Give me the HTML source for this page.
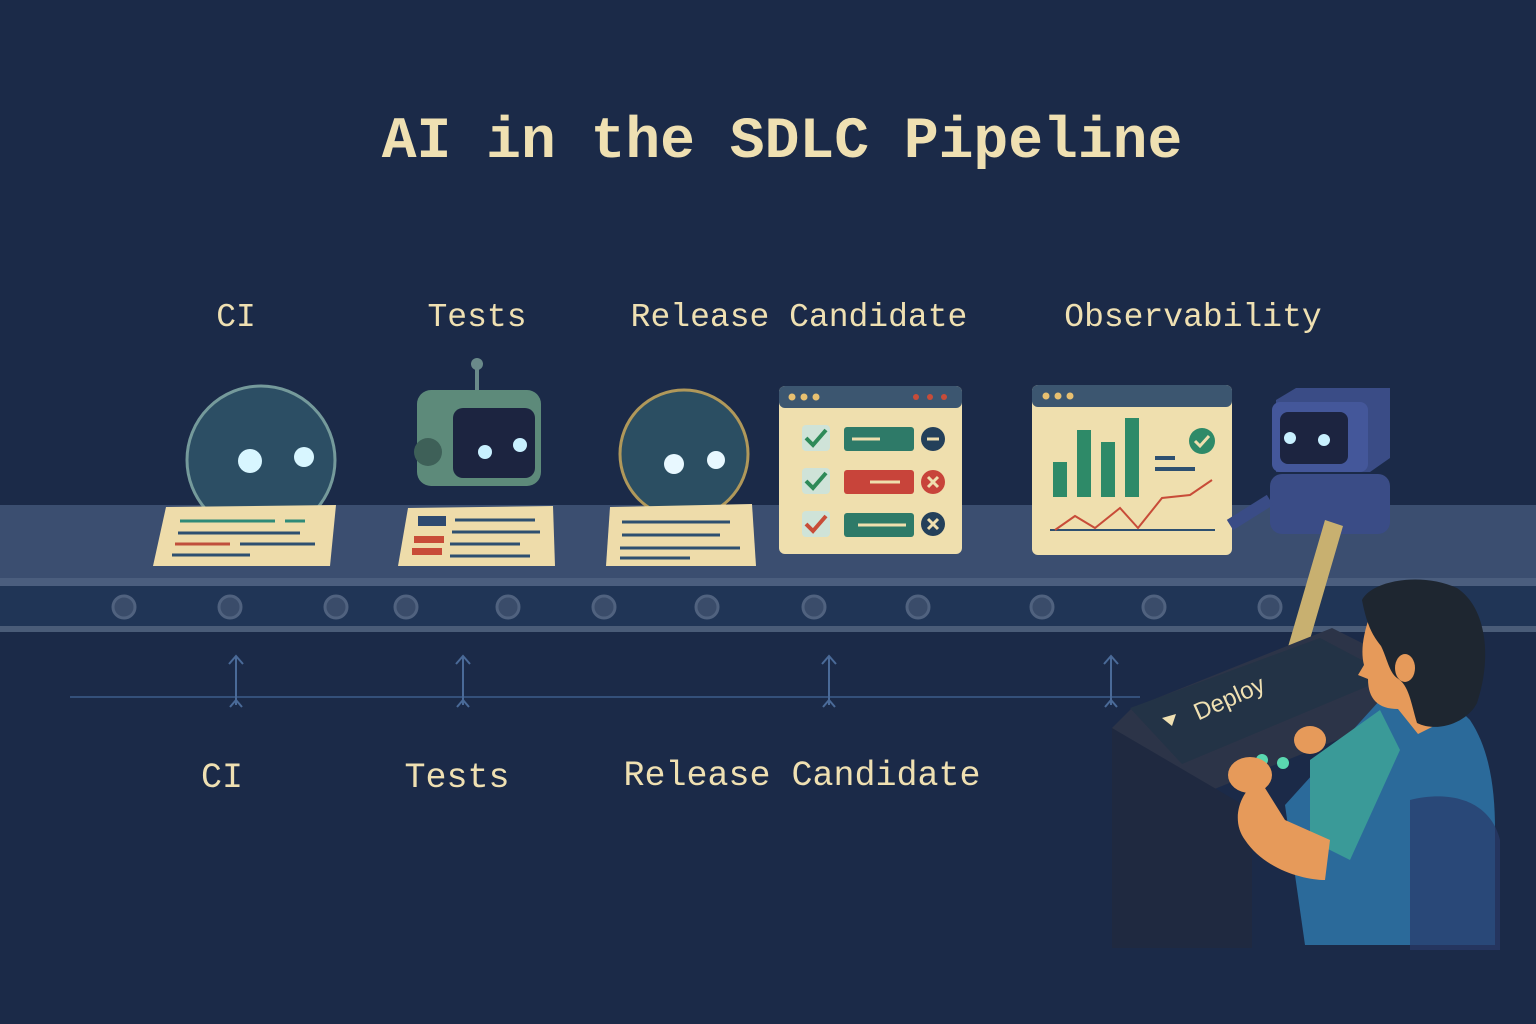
<!DOCTYPE html>
<html><head><meta charset="utf-8"><style>
html,body{margin:0;padding:0;background:#1b2a48;}
svg{display:block}
text{font-family:"Liberation Mono","DejaVu Sans Mono",monospace;fill:#efe0b2}
</style></head><body>
<svg width="1536" height="1024" viewBox="0 0 1536 1024" xmlns="http://www.w3.org/2000/svg">
<rect width="1536" height="1024" fill="#1b2a48"/>
<text x="782" y="157" font-size="58" font-weight="bold" text-anchor="middle">AI in the SDLC Pipeline</text>
<g font-size="33" text-anchor="middle">
<text x="236" y="326">CI</text>
<text x="477" y="326">Tests</text>
<text x="799" y="326">Release Candidate</text>
<text x="1193" y="326">Observability</text>
</g>
<g font-size="35" text-anchor="middle">
<text x="222" y="787">CI</text>
<text x="457" y="787">Tests</text>
<text x="802" y="785">Release Candidate</text>
</g>
<!-- conveyor -->
<rect x="0" y="505" width="1536" height="80" fill="#3b4e70"/>
<rect x="0" y="578" width="1536" height="8" fill="#4b5e7e"/>
<rect x="0" y="586" width="1536" height="42" fill="#203556"/>
<rect x="0" y="626" width="1536" height="6" fill="#4a5c78"/>
<g fill="#3a4c6a" stroke="#50627f" stroke-width="3">
<circle cx="124" cy="607" r="11"/><circle cx="230" cy="607" r="11"/><circle cx="336" cy="607" r="11"/><circle cx="406" cy="607" r="11"/><circle cx="508" cy="607" r="11"/><circle cx="604" cy="607" r="11"/><circle cx="707" cy="607" r="11"/><circle cx="814" cy="607" r="11"/><circle cx="918" cy="607" r="11"/><circle cx="1042" cy="607" r="11"/><circle cx="1154" cy="607" r="11"/><circle cx="1270" cy="607" r="11"/>
</g>
<!-- arrows -->
<line x1="70" y1="697" x2="1140" y2="697" stroke="#34507a" stroke-width="2"/>
<g stroke="#4a6a98" stroke-width="2" fill="none">
<path d="M236 705V656M229 664L236 656L243 664M230 707L236 700L242 707"/>
<path d="M463 705V656M456 664L463 656L470 664M457 707L463 700L469 707"/>
<path d="M829 705V656M822 664L829 656L836 664M823 707L829 700L835 707"/>
<path d="M1111 705V656M1104 664L1111 656L1118 664M1105 707L1111 700L1117 707"/>
</g>
<!-- CI orb -->
<circle cx="261" cy="460" r="74" fill="#2d5066" stroke="#7aa0a0" stroke-width="3" opacity="0.95"/>
<circle cx="250" cy="461" r="12" fill="#d8f6ff"/><circle cx="304" cy="457" r="10" fill="#d8f6ff"/>
<path d="M166 507L336 505L330 566L153 566Z" fill="#eedcaa"/>
<g stroke-width="3"><line x1="180" y1="521" x2="275" y2="521" stroke="#2e8a78"/><line x1="285" y1="521" x2="305" y2="521" stroke="#2e8a78"/>
<line x1="178" y1="533" x2="300" y2="533" stroke="#2e5070"/><line x1="175" y1="544" x2="230" y2="544" stroke="#c0503c"/><line x1="240" y1="544" x2="315" y2="544" stroke="#2e5070"/><line x1="172" y1="555" x2="250" y2="555" stroke="#2e5070"/></g>
<!-- Tests robot -->
<line x1="477" y1="365" x2="477" y2="393" stroke="#6a8a8a" stroke-width="4"/><circle cx="477" cy="364" r="6" fill="#6a8a8a"/>
<rect x="417" y="390" width="124" height="96" rx="14" fill="#5d8a7a"/>
<circle cx="428" cy="452" r="14" fill="#3e6058"/>
<rect x="453" y="408" width="82" height="70" rx="10" fill="#1c2440"/>
<circle cx="485" cy="452" r="7" fill="#c8f0ff"/><circle cx="520" cy="445" r="7" fill="#c8f0ff"/>
<path d="M408 508L553 506L555 566L398 566Z" fill="#eedcaa"/>
<rect x="418" y="516" width="28" height="10" fill="#2e4a70"/><rect x="414" y="536" width="30" height="7" fill="#c84c38"/><rect x="412" y="548" width="30" height="7" fill="#c84c38"/>
<g stroke="#2e5070" stroke-width="3"><line x1="455" y1="520" x2="535" y2="520"/><line x1="452" y1="532" x2="540" y2="532"/><line x1="450" y1="544" x2="520" y2="544"/><line x1="450" y1="556" x2="530" y2="556"/></g>
<!-- RC orb -->
<circle cx="684" cy="454" r="64" fill="#2b4e62" stroke="#b0985a" stroke-width="3"/>
<circle cx="674" cy="464" r="10" fill="#e8f8ff"/><circle cx="716" cy="460" r="9" fill="#e8f8ff"/>
<path d="M610 507L752 504L756 566L606 566Z" fill="#eedcaa"/>
<g stroke="#2e5070" stroke-width="3"><line x1="622" y1="522" x2="730" y2="522"/><line x1="622" y1="535" x2="720" y2="535"/><line x1="620" y1="548" x2="740" y2="548"/><line x1="620" y1="558" x2="690" y2="558"/></g>
<!-- RC panel -->
<rect x="779" y="386" width="183" height="168" rx="6" fill="#efdfae"/>
<rect x="779" y="386" width="183" height="22" rx="6" fill="#3c5670"/>
<g fill="#e8c070"><circle cx="792" cy="397" r="3.5"/><circle cx="804" cy="397" r="3.5"/><circle cx="816" cy="397" r="3.5"/></g>
<g fill="#c84c38"><circle cx="916" cy="397" r="3"/><circle cx="930" cy="397" r="3"/><circle cx="944" cy="397" r="3"/></g>
<g fill="#cfe3d8"><rect x="802" y="425" width="28" height="26" rx="4"/><rect x="802" y="468" width="28" height="26" rx="4"/><rect x="802" y="511" width="28" height="26" rx="4"/></g>
<g stroke-width="4" fill="none"><path d="M806 438l7 7 13-15" stroke="#2e8a58"/><path d="M806 481l7 7 13-15" stroke="#2e8a58"/><path d="M806 524l7 7 13-15" stroke="#c84c38"/></g>
<rect x="844" y="427" width="70" height="24" rx="3" fill="#2e7a68"/><rect x="844" y="470" width="70" height="24" rx="3" fill="#c8443a"/><rect x="844" y="513" width="70" height="24" rx="3" fill="#2e7a68"/>
<circle cx="933" cy="439" r="12" fill="#24405a"/><circle cx="933" cy="482" r="12" fill="#c8443a"/><circle cx="933" cy="524" r="12" fill="#24405a"/>
<g stroke="#efdfae" stroke-width="3"><line x1="927" y1="439" x2="939" y2="439"/><path d="M928 477l10 10M938 477l-10 10"/><path d="M928 519l10 10M938 519l-10 10"/><line x1="852" y1="439" x2="880" y2="439"/><line x1="870" y1="482" x2="900" y2="482"/><line x1="858" y1="525" x2="906" y2="525"/></g>
<!-- Obs panel -->
<rect x="1032" y="385" width="200" height="170" rx="6" fill="#efdfae"/>
<rect x="1032" y="385" width="200" height="22" rx="6" fill="#3c5670"/>
<g fill="#e8c070"><circle cx="1046" cy="396" r="3.5"/><circle cx="1058" cy="396" r="3.5"/><circle cx="1070" cy="396" r="3.5"/></g>
<g fill="#2e8a68"><rect x="1053" y="462" width="14" height="35"/><rect x="1077" y="430" width="14" height="67"/><rect x="1101" y="442" width="14" height="55"/><rect x="1125" y="418" width="14" height="79"/></g>
<circle cx="1202" cy="441" r="13" fill="#2e8a68"/><path d="M1195 441l5 5 9-10" stroke="#efdfae" stroke-width="3" fill="none"/>
<g stroke="#2e5070" stroke-width="4"><line x1="1155" y1="458" x2="1175" y2="458"/><line x1="1155" y1="469" x2="1195" y2="469"/></g>
<line x1="1050" y1="530" x2="1215" y2="530" stroke="#2e5070" stroke-width="2"/>
<polyline points="1055,530 1075,516 1095,528 1120,508 1138,528 1162,498 1190,495 1212,480" fill="none" stroke="#c84c38" stroke-width="2"/>
<!-- right robot -->
<path d="M1276 400l20-12h94v70l-20 14h-94z" fill="#3a4c86"/>
<rect x="1272" y="402" width="96" height="70" rx="8" fill="#44579a"/>
<rect x="1280" y="412" width="68" height="52" rx="8" fill="#1c2440"/>
<circle cx="1290" cy="438" r="6" fill="#c8f0ff"/><circle cx="1324" cy="440" r="6" fill="#c8f0ff"/>
<rect x="1270" y="474" width="120" height="60" rx="12" fill="#3a4c86"/>
<path d="M1270 500l-40 25" stroke="#3a4c86" stroke-width="12"/>
<!-- lever -->
<path d="M1325 520l18 6-42 144-18-6z" fill="#c8b070"/>
<!-- console -->
<path d="M1112 728l20-20 200-80 60 30v60l-200 80-60 10z" fill="#2c3448"/>
<path d="M1130 708l190-70 72 38-210 88z" fill="#233346"/>
<text x="1230" y="706" font-size="24" transform="rotate(-24 1230 700)" text-anchor="middle" style="font-family:'Liberation Sans',sans-serif">Deploy</text>
<path d="M1162 718l14-4-4 12z" fill="#efe0b2"/>
<path d="M1112 728v220h140V810z" fill="#1f2940"/>
<circle cx="1262" cy="760" r="6" fill="#5ad8b0"/><circle cx="1283" cy="763" r="6" fill="#5ad8b0"/>
<!-- person -->
<path d="M1380 700c30-10 60-10 90 20 20 30 25 70 25 110v115h-190l-20-140z" fill="#2b6a9a"/>
<path d="M1310 760l70-50 20 40-50 110-40-20z" fill="#3a9a98"/>
<path d="M1260 780c-20 10-30 40-15 60 20 30 60 40 80 40l5-40-45-20z" fill="#e69a5a"/>
<ellipse cx="1250" cy="775" rx="22" ry="18" fill="#e69a5a"/>
<ellipse cx="1310" cy="740" rx="16" ry="14" fill="#e69a5a"/>
<path d="M1372 610c-8 20-12 40-8 55l-6 10 10 4c0 20 10 30 30 30l20 25 30-15-10-60z" fill="#e69a5a"/>
<path d="M1362 600c10-20 60-28 95-12 30 20 35 70 20 115-10 20-40 30-60 20-6-20-8-38-20-45-8-6-10-20-16-32-8-10-14-20-19-46z" fill="#1e2630"/>
<ellipse cx="1405" cy="668" rx="10" ry="14" fill="#e69a5a"/>
<path d="M1410 800c40-10 80 0 90 40v110h-90z" fill="#2a3a6a" opacity="0.7"/>
</svg>
</body></html>
